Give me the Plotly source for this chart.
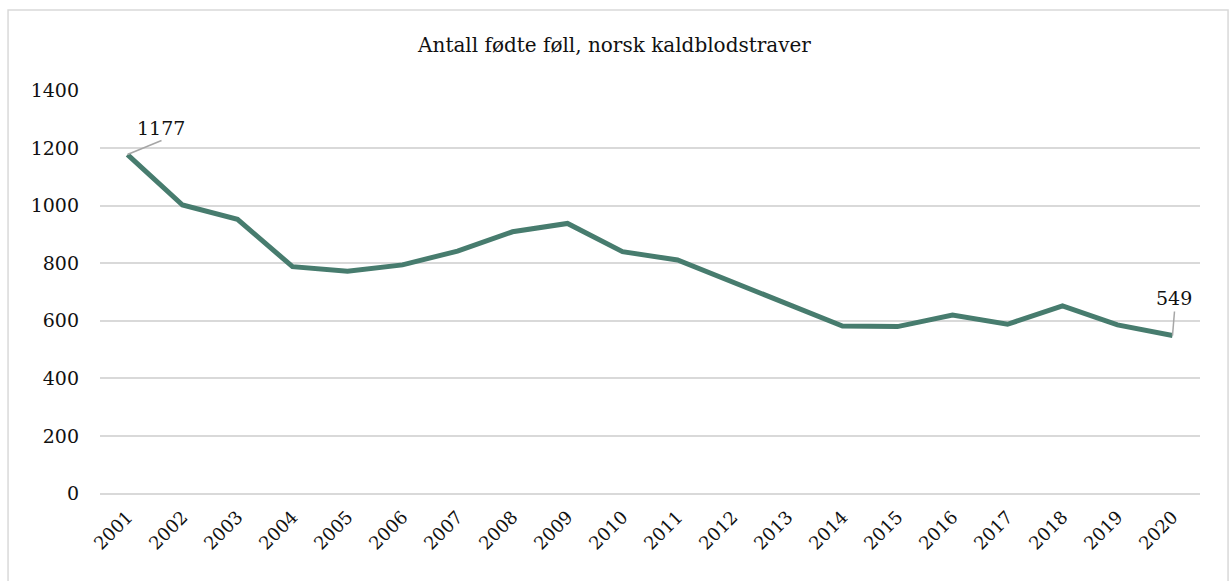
import plotly.graph_objects as go

# Annual foal counts, Norwegian coldblood trotter
years = [str(y) for y in range(2001, 2021)]
foals = [1177, 1002, 952, 788, 772, 794, 842, 909, 938, 840,
         811, 736, 661, 582, 580, 620, 588, 652, 586, 549]
y_ticks = [0, 200, 400, 600, 800, 1000, 1200, 1400]

FONT = "DejaVu Serif, Georgia, serif"
LINE_COLOR = "#477C6E"
GRID_COLOR = "#D9D9D9"
TEXT_COLOR = "#111111"
LEADER_COLOR = "#A6A6A6"

idx = list(range(len(years)))

fig = go.Figure()
fig.add_trace(go.Scatter(
    x=idx, y=foals, mode="lines",
    line=dict(color=LINE_COLOR, width=5),
    customdata=years, hovertemplate="%{customdata}: %{y}<extra></extra>",
    showlegend=False,
))


def value_label(i, dx, dy, tx, ty):
    """Label a point with its value plus a thin leader line (offsets in px)."""
    fig.add_shape(type="line", xref="x", yref="y",
                  xsizemode="pixel", ysizemode="pixel",
                  xanchor=idx[i], yanchor=foals[i],
                  x0=0, y0=0, x1=dx, y1=dy,
                  line=dict(color=LEADER_COLOR, width=1.5))
    fig.add_annotation(x=idx[i], y=foals[i], text=str(foals[i]),
                       showarrow=False, xshift=tx, yshift=ty,
                       font=dict(family=FONT, size=19, color=TEXT_COLOR))


# first and last year carry their values
value_label(0, 34, 14, 33, 27)
value_label(len(years) - 1, 2, 24, 1, 38)

# outer chart frame
fig.add_shape(type="rect", xref="paper", yref="paper",
              x0=-0.0836, x1=1.0255, y0=-0.25, y1=1.198,
              line=dict(color=GRID_COLOR, width=1.5), layer="below")

fig.update_layout(
    width=1229, height=581,
    margin=dict(l=100, r=29, t=90, b=87),
    paper_bgcolor="white", plot_bgcolor="white",
    font=dict(family=FONT, size=19, color=TEXT_COLOR),
    title=dict(text="Antall fødte føll, norsk kaldblodstraver",
               x=0.5, xref="container", xanchor="center",
               y=1 - 45 / 581, yref="container", yanchor="middle",
               font=dict(family=FONT, size=20, color=TEXT_COLOR)),
)
fig.update_xaxes(
    range=[-0.5, len(years) - 0.5], tickvals=idx, ticktext=years,
    tickangle=-45, showgrid=False, showline=False, zeroline=False,
    ticks="", ticklabelstandoff=8,
    tickfont=dict(family=FONT, size=18, color=TEXT_COLOR),
)
fig.update_yaxes(
    range=[-1, 1401], tickvals=y_ticks, showgrid=True,
    gridcolor=GRID_COLOR, gridwidth=1.5,
    zeroline=True, zerolinecolor=GRID_COLOR, zerolinewidth=1.5,
    showline=False, ticks="", ticklabelstandoff=20,
    tickfont=dict(family=FONT, size=19, color=TEXT_COLOR),
)

fig.write_html("out.html")
